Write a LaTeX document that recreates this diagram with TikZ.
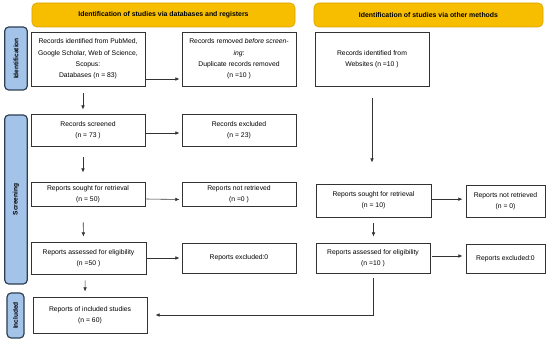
\documentclass[tikz,border=0pt]{standalone}
\usepackage{fontspec}
\setmainfont{Liberation Sans}
\usetikzlibrary{arrows.meta}
\definecolor{hdryellow}{HTML}{F7BE00}
\definecolor{hdrline}{HTML}{D9A400}
\definecolor{sideblue}{HTML}{A3C4E8}
\definecolor{sideline}{HTML}{2F3D52}
\tikzset{
  box/.style={draw=black!80, line width=0.8pt, fill=white, align=center, inner sep=0pt,
    font=\fontsize{5.8}{9.6}\selectfont},
  hdr/.style={draw=hdrline, fill=hdryellow, rounded corners=4pt, line width=0.5pt,
    minimum height=0.72cm, font=\fontsize{5.9}{7}\selectfont\bfseries},
  side/.style={draw=sideline, fill=sideblue, rounded corners=3.5pt, line width=1pt, rotate=90,
    inner sep=0pt, font=\fontsize{5.6}{7}\selectfont\bfseries},
  arr/.style={-{Latex[length=3.5pt,width=3pt]}, line width=0.5pt, color=black!80}
}

\begin{document}
\begin{tikzpicture}[x=0.03cm,y=-0.03cm]
\useasboundingbox (0,0) rectangle (550,343);

% ---------------- Headers ----------------
\node[hdr, minimum width=7.89cm] (hdrdb) at (163.5,15) {Identification of studies via databases and registers};
\node[hdr, minimum width=6.87cm] (hdrother) at (428.5,15) {Identification of studies via other methods};

% ---------------- Phase labels ----------------
\node[side, minimum width=1.89cm, minimum height=0.68cm] (sideid) at (16,58.5) {Identification};
\node[side, minimum width=5.07cm, minimum height=0.68cm] (sidescr) at (16,199.5) {Screening};
\node[side, minimum width=1.35cm, minimum height=0.51cm] (sideinc) at (15.5,315.5) {Included};

% ---------------- Databases and registers ----------------
\node[box, minimum width=3.42cm, minimum height=1.62cm] (ident) at (88,59)
  {Records identified from PubMed,\\Google Scholar, Web of Science,\\Scopus:\\Databases (n = 83)};
\node[box, minimum width=3.42cm, minimum height=1.62cm] (removed) at (239,59)
  {Records removed \textit{before screen-}\\\textit{ing}:\\Duplicate records removed\\(n =10 )};
\node[box, minimum width=3.42cm, minimum height=0.96cm] (screened) at (88,130) {Records screened\\(n = 73 )};
\node[box, minimum width=3.42cm, minimum height=0.96cm] (excluded) at (239,130) {Records excluded\\(n = 23)};
\node[box, minimum width=3.42cm, minimum height=0.72cm] (sought) at (88,194) {Reports sought for retrieval\\(n = 50)};
\node[box, minimum width=3.42cm, minimum height=0.70cm] (notret) at (239,194.5) {Reports not retrieved\\(n =0 )};
\node[box, minimum width=3.45cm, minimum height=0.96cm] (assessed) at (88.5,258) {Reports assessed for eligibility\\(n =50 )};
\node[box, minimum width=3.42cm, minimum height=0.90cm] (assexcl) at (239,258) {Reports excluded:0};
\node[box, minimum width=3.42cm, minimum height=1.08cm] (included) at (90,315) {Reports of included studies\\(n = 60)};

% ---------------- Other methods ----------------
\node[box, minimum width=3.42cm, minimum height=1.62cm] (websites) at (372,59) {Records identified from\\Websites (n =10 )};
\node[box, minimum width=3.45cm, minimum height=0.99cm] (rsought) at (373.5,200.5) {Reports sought for retrieval\\(n = 10)};
\node[box, minimum width=2.37cm, minimum height=0.96cm] (rnotret) at (505.5,201) {Reports not retrieved\\(n = 0)};
\node[box, minimum width=3.42cm, minimum height=0.90cm] (rassessed) at (373,258) {Reports assessed for eligibility\\(n =10 )};
\node[box, minimum width=2.37cm, minimum height=0.87cm] (rexcl) at (505.5,258.5) {Reports excluded:0};

% ---------------- Arrows ----------------
\draw[arr, shorten <=0.21cm, shorten >=0.12cm] ([xshift=-0.15cm]ident.south) -- ([xshift=-0.15cm]screened.north);
\draw[arr, shorten <=0.33cm, shorten >=0.27cm] ([xshift=-0.15cm]screened.south) -- ([xshift=-0.15cm]sought.north);
\draw[arr, shorten <=0.48cm, shorten >=0.15cm] ([xshift=-0.15cm]sought.south) -- ([xshift=-0.15cm]assessed.north);
\draw[arr, shorten <=0.18cm, shorten >=0.15cm] ([xshift=-0.1cm]assessed.south) -- ([xshift=-0.15cm]included.north);

\draw[arr, shorten >=0.06cm] ([yshift=-0.6cm]ident.east) -- ([yshift=-0.6cm]removed.west);
\draw[arr, shorten <=0.03cm, shorten >=0.06cm] ([yshift=-0.09cm]screened.east) -- ([yshift=-0.09cm]excluded.west);
\draw[arr, shorten <=0.03cm, shorten >=0.06cm] ([yshift=-0.15cm]sought.east) -- ([yshift=-0.15cm]notret.west);
\draw[arr, shorten <=0.03cm, shorten >=0.06cm] (assessed.east) -- (assexcl.west);

\draw[arr, shorten <=0.36cm, shorten >=0.63cm] (websites.south) -- (websites.south |- rsought.north);
\draw[arr, shorten <=0.18cm, shorten >=0.18cm] (rsought.south) -- (rsought.south |- rassessed.north);
\draw[arr, shorten <=0.03cm, shorten >=0.09cm] ([yshift=0.04cm]rsought.east) -- ([yshift=0.04cm]rsought.east -| rnotret.west);
\draw[arr, shorten <=0.06cm, shorten >=0.09cm] ([yshift=0.06cm]rassessed.east) -- ([yshift=0.06cm]rassessed.east -| rexcl.west);
\draw[arr, shorten <=0.15cm, shorten >=0.24cm] (rassessed.south) |- (included.east);

\end{tikzpicture}
\end{document}
